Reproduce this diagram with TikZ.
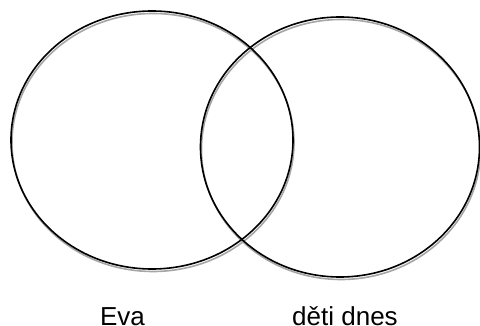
\documentclass[tikz,border=0pt]{standalone}
\usepackage{fontspec}
\setmainfont{Liberation Sans}
\begin{document}
\begin{tikzpicture}[x=1pt,y=-1pt,
  ring/.style={draw=black,line width=1.6pt},
  ringshadow/.style={draw=black!35,line width=1.6pt},
  lbl/.style={font=\fontsize{26}{30}\selectfont,anchor=base,inner sep=0pt}]
\useasboundingbox (0,0) rectangle (480,326);
\draw[ringshadow] (153,142.5) ellipse [x radius=141, y radius=129];
\draw[ringshadow] (341,149.5) ellipse [x radius=139.5, y radius=130];
\draw[ring] (152,140) ellipse [x radius=141, y radius=129];
\draw[ring] (340,147) ellipse [x radius=139.5, y radius=130];
\node (eva) [lbl] at (122.5,325.5) {Eva};
\node (deti) [lbl] at (345,325.5) {děti dnes};
\end{tikzpicture}
\end{document}
